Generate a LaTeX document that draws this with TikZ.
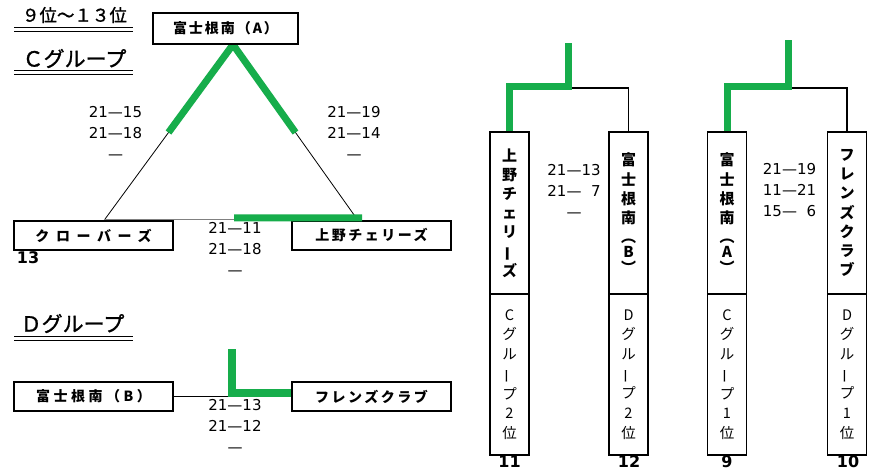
\documentclass[tikz,border=0pt]{standalone}
\usepackage{fontspec}
\usepackage{graphicx}
\usetikzlibrary{calc,backgrounds}
\newfontfamily\jp{Noto Sans CJK JP}
\newfontfamily\jpm[FakeBold=1.2]{Noto Sans CJK JP}
\newfontfamily\numfont{DejaVu Sans}
\definecolor{grn}{RGB}{22,173,75}
\newcommand\vchou{\rotatebox[origin=c]{90}{ー}}
\newcommand\lsp[1]{\addfontfeatures{LetterSpace=#1}}
\tikzset{
 hbox/.style={draw, fill=white, line width=1.1pt, minimum width=159pt, minimum height=29pt, inner sep=0pt, font=\jp\bfseries\fontsize{14}{16}\selectfont},
 vtop/.style={draw, fill=white, line width=1.1pt, minimum width=39pt, minimum height=162pt, inner sep=0pt, align=center, font=\jp\bfseries\fontsize{15}{19.2}\selectfont},
 vbot/.style={draw, fill=white, line width=1.1pt, minimum width=39pt, minimum height=161pt, inner sep=0pt, align=center, font=\jp\fontsize{14.5}{19.7}\selectfont},
 score/.style={align=center, inner sep=0pt, font=\numfont\fontsize{15}{21}\selectfont},
 rank/.style={inner sep=0pt, font=\numfont\bfseries\fontsize{16}{18}\selectfont},
 hdr/.style={inner sep=0pt, font=\jpm\fontsize{21}{23}\selectfont},
 win/.style={draw=grn, line width=7pt},
 tri/.style={draw, line width=0.8pt},
 link/.style={draw, line width=1.6pt},
 uline/.style={draw, line width=1.3pt},
 uline2/.style={draw, line width=0.9pt},
}
\begin{document}
\begin{tikzpicture}[x=1pt,y=-1pt]
\useasboundingbox (0,0) rectangle (872,472);
% headers
\node[hdr, font=\jpm\fontsize{17.5}{20}\selectfont] (h1) at (74.5,15) {９位～１３位};
\node[hdr] (h2) at (74.5,58.5) {Ｃグループ};
\node[hdr] (h3) at (72.5,323.5) {Ｄグループ};
\draw[uline] (14,27.5) -- (133,27.5); \draw[uline2] (14,31) -- (133,31);
\draw[uline] (14,70.5) -- (133,70.5); \draw[uline2] (14,74) -- (133,74);
\draw[uline] (14,336.7) -- (133,336.7); \draw[uline2] (14,340) -- (133,340);
% C group boxes
\node[hbox, minimum width=145pt, minimum height=31pt] (A) at (225.5,28.5) {\lsp{14}富士根南（A）};
\node[hbox] (clover) at (93.5,235.5) {\lsp{47}クローバーズ};
\node[hbox] (ueno) at (371.5,235.5) {\lsp{18}上野チェリーズ};
% D group boxes
\node[hbox] (fujiB) at (93.5,396.5) {\lsp{25}富士根南（B）};
\node[hbox] (fren) at (371.5,396.5) {\lsp{18}フレンズクラブ};
% bracket boxes
\node[vtop] (ueno2) at (509.5,213) {上\\野\\チ\\ェ\\リ\\\vchou\\ズ};
\node[vbot] (c2) at (509.5,374.5) {C\\グ\\ル\\\vchou\\プ\\2\\位};
\node[vtop] (fujiB2) at (628.5,213) {富\\士\\根\\南\\︵\\[-4pt]B\\[-4pt]︶};
\node[vbot] (d2) at (628.5,374.5) {D\\グ\\ル\\\vchou\\プ\\2\\位};
\node[vtop] (fujiA2) at (727,213) {富\\士\\根\\南\\︵\\[-4pt]A\\[-4pt]︶};
\node[vbot] (c1) at (727,374.5) {C\\グ\\ル\\\vchou\\プ\\1\\位};
\node[vtop] (fren2) at (847,213) {フ\\レ\\ン\\ズ\\ク\\ラ\\ブ};
\node[vbot] (d1) at (847,374.5) {D\\グ\\ル\\\vchou\\プ\\1\\位};
% scores
\node[score] (s1) at (115.5,132.5) {21—15\\21—18\\—};
\node[score] (s2) at (354,132.5) {21—19\\21—14\\—};
\node[score] (s3) at (235,249) {21—11\\21—18\\—};
\node[score] (s4) at (235,426) {21—13\\21—12\\—};
\node[score] (s5) at (574,190.5) {21—13\\21—\hphantom{1}7\\—};
\node[score] (s6) at (789.5,190.5) {21—19\\11—21\\15—\hphantom{1}6};
% ranks
\node[rank] (r13) at (28,258) {13};
\node[rank] (r11) at (509.5,462) {11};
\node[rank] (r12) at (629,462) {12};
\node[rank] (r9) at (727,462) {9};
\node[rank] (r10) at (848,462) {10};
% connectors
\begin{pgfonlayer}{background}
\fill[white] (0,0) rectangle (872,472);
\coordinate (apex) at ($(A.south)+(7.5,0)$);
\coordinate (fl) at ($(clover.north)+(10.5,0)$);
\coordinate (fr) at ($(ueno.north)+(-13.5,0)$);
\draw[tri] (fl) -- (apex) -- (fr);
\draw[win] ($(apex)!0.5!(fl)$) -- (apex) -- ($(apex)!0.5!(fr)$);
\draw[tri, draw=gray] ($(fl)+(0,-1.5)$) -- ($(fr)+(0,-1.5)$);
\coordinate (m1) at (568,88);
\coordinate (top1) at (568,43);
\draw[link] (m1) -| (fujiB2.north);
\draw[win] (ueno2.north) |- ($(m1)+(0,-1.5)$) -- (top1);
\coordinate (m2) at (788,88);
\coordinate (top2) at (788,40);
\draw[link] (m2) -| (fren2.north);
\draw[win] (fujiA2.north) |- ($(m2)+(0,-1.5)$) -- (top2);
\coordinate (dtop) at (232,349);
\draw[link] (fujiB.east) -- (fujiB.east -| dtop);
\draw[win, line width=8pt] (dtop) |- ($(fren.west)+(0,-4)$);
\end{pgfonlayer}
\draw[win] ($(fl)!0.5!(fr)+(3,-2.5)$) -- ($(fr)+(4,-2.5)$);
\end{tikzpicture}
\end{document}
